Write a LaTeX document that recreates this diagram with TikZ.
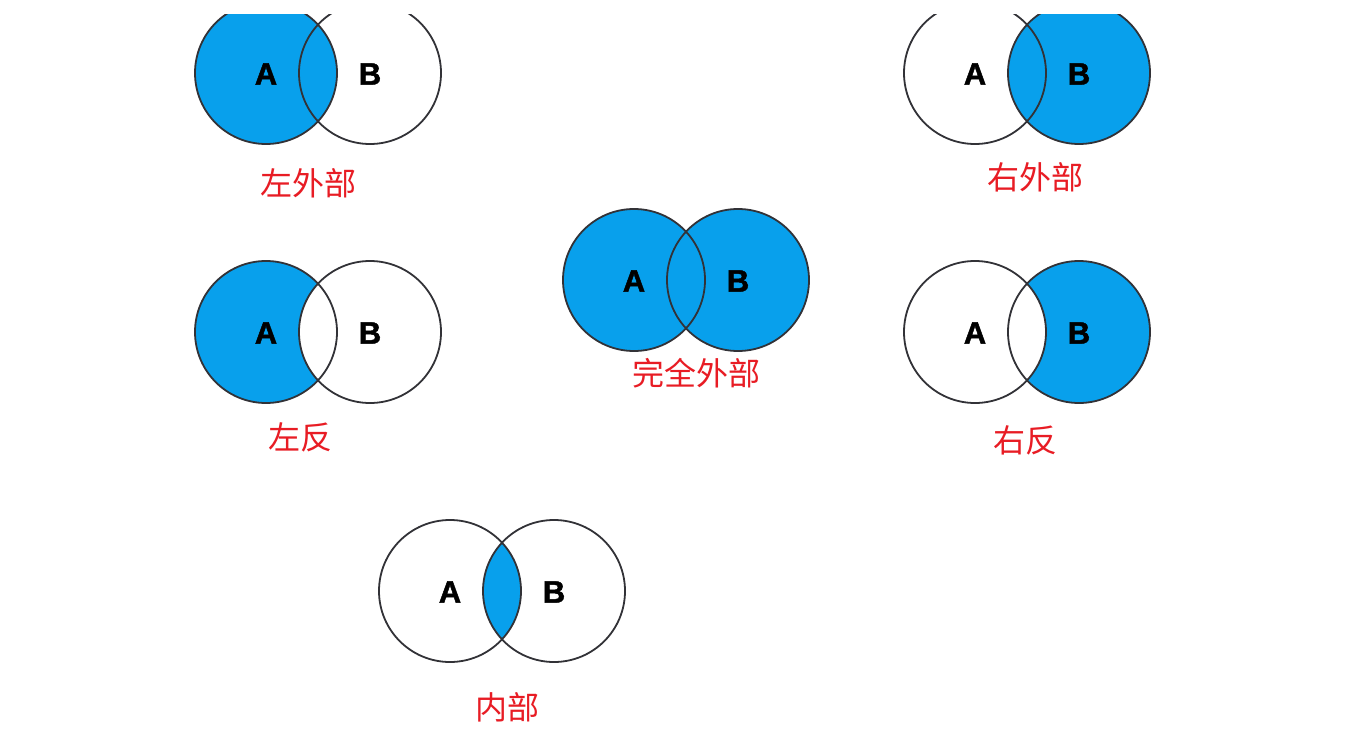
\documentclass[tikz,border=0pt]{standalone}
\usepackage{fontspec}
\setmainfont{Liberation Sans}
\newfontfamily\cjk{Noto Sans CJK SC}
\newfontfamily\heavy[FakeBold=1.5]{Liberation Sans Bold}
\definecolor{venn}{RGB}{8,160,236}
\definecolor{edge}{RGB}{50,50,55}
\definecolor{lbl}{RGB}{232,28,36}
\tikzset{
  ring/.style={draw=edge, line width=1.8pt},
  letter/.style={font=\heavy\fontsize{31}{33}\selectfont, text=black},
  caption/.style={font=\cjk\fontsize{32}{34}\selectfont, text=lbl},
}
\begin{document}
\begin{tikzpicture}[x=1pt,y=-1pt]
\useasboundingbox (0,0) rectangle (1346,741);
\fill[white] (0,0) rectangle (1346,741);
\begin{scope}
\clip (0,15) rectangle (1346,741);
% left outer
\fill[venn] (266,73) circle (71);
\draw[ring] (266,73) circle (71);
\draw[ring] (370,73) circle (71);
\node[letter] (lo-a) at (266,74) {A};
\node[letter] (lo-b) at (370,74) {B};
% right outer
\fill[venn] (1079,73) circle (71);
\draw[ring] (975,73) circle (71);
\draw[ring] (1079,73) circle (71);
\node[letter] (ro-a) at (975,74) {A};
\node[letter] (ro-b) at (1079,74) {B};
\end{scope}
\node[caption] (lo-cap) at (308,183) {左外部};
\node[caption] (ro-cap) at (1035,177) {右外部};
% full outer
\fill[venn] (634,280) circle (71) (738,280) circle (71);
\draw[ring] (634,280) circle (71);
\draw[ring] (738,280) circle (71);
\node[letter] (fo-a) at (634,281) {A};
\node[letter] (fo-b) at (738,281) {B};
\node[caption] (fo-cap) at (696,373) {完全外部};
% left anti
\fill[venn] (266,332) circle (71);
\fill[white] (370,332) circle (71);
\draw[ring] (266,332) circle (71);
\draw[ring] (370,332) circle (71);
\node[letter] (la-a) at (266,333) {A};
\node[letter] (la-b) at (370,333) {B};
\node[caption] (la-cap) at (300,437) {左反};
% right anti
\fill[venn] (1079,332) circle (71);
\fill[white] (975,332) circle (71);
\draw[ring] (975,332) circle (71);
\draw[ring] (1079,332) circle (71);
\node[letter] (ra-a) at (975,333) {A};
\node[letter] (ra-b) at (1079,333) {B};
\node[caption] (ra-cap) at (1025,440) {右反};
% inner
\begin{scope}
\clip (450,591) circle (71);
\fill[venn] (554,591) circle (71);
\end{scope}
\draw[ring] (450,591) circle (71);
\draw[ring] (554,591) circle (71);
\node[letter] (in-a) at (450,592) {A};
\node[letter] (in-b) at (554,592) {B};
\node[caption] (in-cap) at (507,707) {内部};
\end{tikzpicture}
\end{document}
